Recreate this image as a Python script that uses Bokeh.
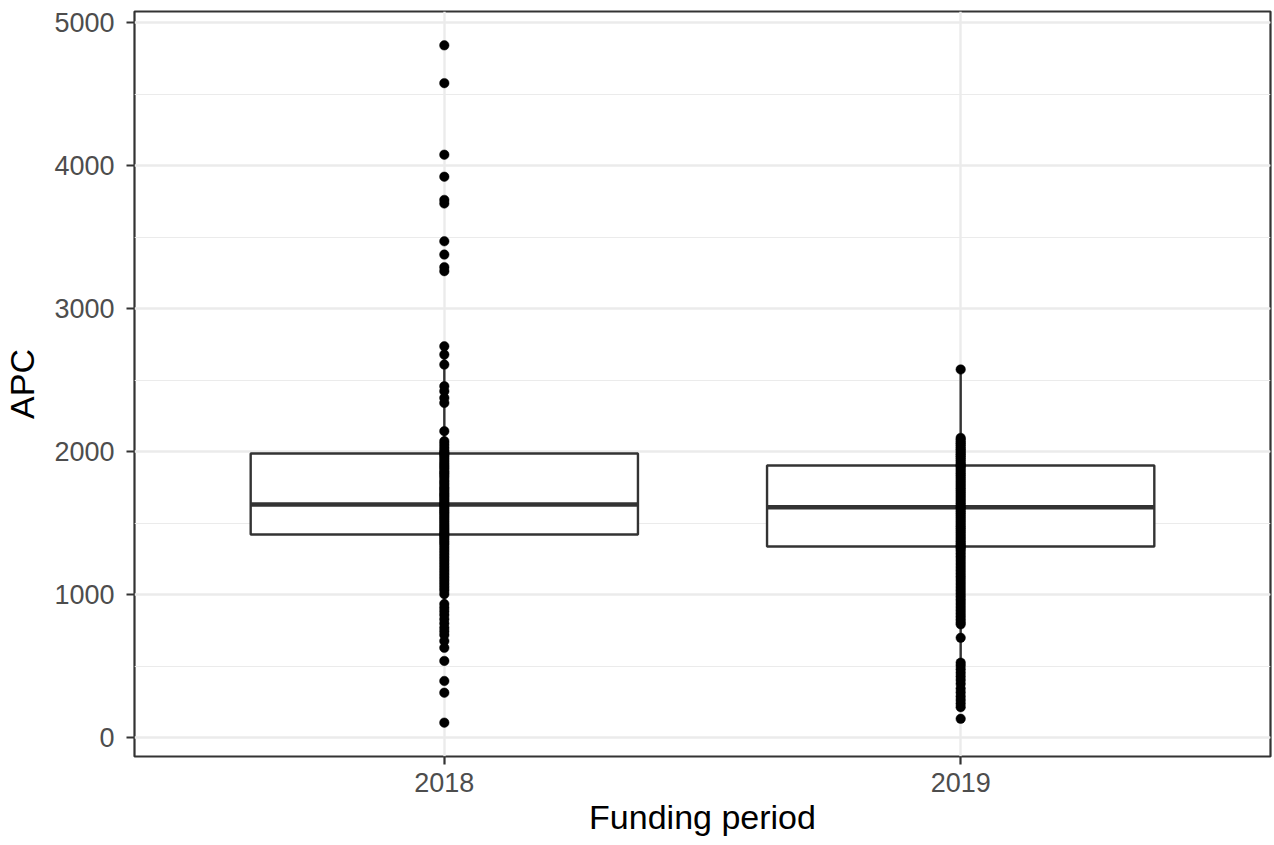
from bokeh.plotting import figure
from bokeh.models import Range1d, FixedTicker, SingleIntervalTicker
from bokeh.embed import file_html
from bokeh.resources import INLINE

# ---- data ----
categories = ["2018", "2019"]

apc_2018 = [4840, 4576, 4076, 3922, 3760, 3735, 3471, 3378, 3290, 3262,
            2737, 2679, 2609, 2458, 2423, 2376, 2341, 2144, 2074, 2053,
            2031, 2010, 1995, 1988, 1975, 1960, 1942, 1925, 1910, 1895,
            1880, 1862, 1850, 1835, 1820, 1800, 1785, 1770, 1752, 1740,
            1725, 1710, 1698, 1685, 1670, 1655, 1640, 1631, 1620, 1605,
            1590, 1578, 1565, 1550, 1535, 1520, 1505, 1490, 1475, 1460,
            1445, 1430, 1422, 1410, 1395, 1380, 1365, 1350, 1330, 1310,
            1290, 1270, 1250, 1230, 1210, 1190, 1170, 1150, 1130, 1110,
            1090, 1070, 1050, 1030, 1005, 936, 910, 885, 860, 830,
            800, 770, 745, 720, 677, 630, 538, 398, 316, 107]

apc_2019 = [2575, 2097, 2085, 2070, 2058, 2045, 2030, 2018, 2005, 1992,
            1980, 1968, 1955, 1940, 1925, 1910, 1904, 1895, 1880, 1865,
            1850, 1835, 1820, 1805, 1790, 1775, 1760, 1745, 1730, 1715,
            1700, 1685, 1670, 1655, 1640, 1625, 1612, 1600, 1585, 1570,
            1555, 1540, 1525, 1510, 1495, 1480, 1465, 1450, 1435, 1420,
            1405, 1390, 1375, 1360, 1345, 1338, 1325, 1310, 1290, 1270,
            1250, 1230, 1210, 1190, 1170, 1150, 1130, 1110, 1090, 1070,
            1050, 1030, 1010, 990, 970, 950, 930, 910, 890, 870,
            850, 830, 810, 794, 700, 526, 505, 480, 455, 430,
            405, 378, 345, 318, 290, 265, 240, 215, 134]

q1 = [1422, 1338]
median = [1631, 1612]
q3 = [1988, 1904]
whisker_low = [630, 526]
whisker_high = [2737, 2575]

y_tick_interval = 1000

x_title = "Funding period"
y_title = "APC"

# ---- derived positions via scales ----
xs = [i + 1 for i in range(len(categories))]
series = [apc_2018, apc_2019]
all_vals = apc_2018 + apc_2019
lo, hi = min(all_vals), max(all_vals)
pad = (hi - lo) * 0.05
box_w = 0.75

FONT = "Liberation Sans"
GRID = "#EBEBEB"
DARK = "#333333"

p = figure(width=1274, height=845, output_backend="svg", toolbar_location=None,
           x_range=Range1d(0.4, len(categories) + 0.6),
           y_range=Range1d(lo - pad, hi + pad),
           min_border_left=133, min_border_right=4, min_border_top=11,
           min_border_bottom=89)

p.background_fill_color = "white"
p.border_fill_color = "white"
p.outline_line_color = DARK
p.outline_line_width = 2.2

# grid
p.xgrid.ticker = FixedTicker(ticks=xs)
p.ygrid.ticker = SingleIntervalTicker(interval=y_tick_interval, num_minor_ticks=2)
for g in (p.xgrid, p.ygrid):
    g.grid_line_color = GRID
    g.grid_line_width = 2.4
p.ygrid.minor_grid_line_color = GRID
p.ygrid.minor_grid_line_width = 1.2

# axes
p.xaxis.ticker = FixedTicker(ticks=xs)
p.xaxis.major_label_overrides = {x: c for x, c in zip(xs, categories)}
p.yaxis.ticker = SingleIntervalTicker(interval=y_tick_interval, num_minor_ticks=2)
for ax in (p.xaxis, p.yaxis):
    ax.axis_line_color = None
    ax.major_tick_line_color = DARK
    ax.major_tick_line_width = 2.2
    ax.major_tick_in = 0
    ax.major_tick_out = 8
    ax.minor_tick_line_color = None
    ax.major_label_text_font = FONT
    ax.major_label_text_font_size = "27px"
    ax.major_label_text_color = "#4D4D4D"
    ax.axis_label_text_font = FONT
    ax.axis_label_text_font_size = "34px"
    ax.axis_label_text_font_style = "normal"
    ax.axis_label_text_color = "black"
p.xaxis.axis_label = x_title
p.yaxis.axis_label = y_title
p.yaxis.major_label_standoff = 12
p.yaxis.axis_label_standoff = 10
p.xaxis.major_label_standoff = 8
p.xaxis.axis_label_standoff = 3

# boxes
p.quad(left=[x - box_w / 2 for x in xs], right=[x + box_w / 2 for x in xs],
       bottom=q1, top=q3, fill_color="white", line_color=DARK, line_width=2.4)
# whiskers
p.segment(x0=xs, y0=q3, x1=xs, y1=whisker_high, line_color=DARK, line_width=2.4)
p.segment(x0=xs, y0=q1, x1=xs, y1=whisker_low, line_color=DARK, line_width=2.4)
# medians
p.segment(x0=[x - box_w / 2 for x in xs], y0=median,
          x1=[x + box_w / 2 for x in xs], y1=median,
          line_color=DARK, line_width=4.5)

# points
for x, vals in zip(xs, series):
    p.scatter(x=[x] * len(vals), y=vals, size=9.5, fill_color="black",
              line_color="black", line_width=0.5)

open("out.html", "w").write(file_html(p, INLINE))
